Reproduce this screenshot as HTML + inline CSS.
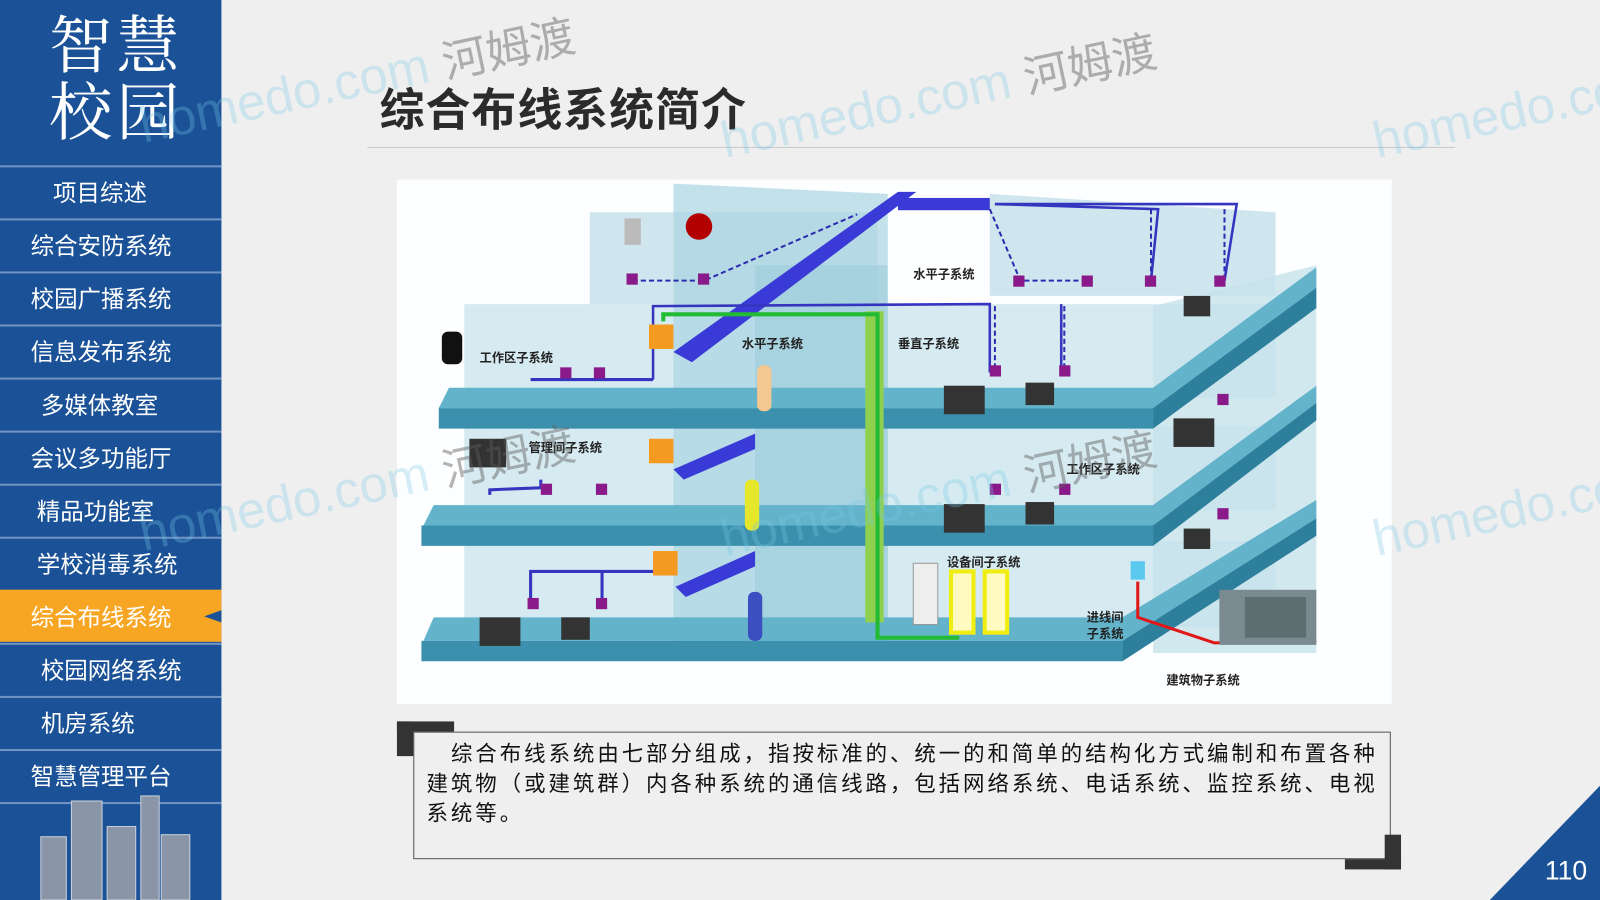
<!DOCTYPE html>
<html><head><meta charset="utf-8"><style>
html,body{margin:0;padding:0;width:1600px;height:900px;overflow:hidden;background:#eeeeee}
#w{position:absolute;left:0;top:0;width:1568px;height:882px;transform:scale(1.020408);transform-origin:0 0;font-family:"Liberation Sans","Noto Sans CJK SC",sans-serif;background:#efefef;overflow:hidden}
#side{position:absolute;left:0;top:0;width:217px;height:882px;background:#1b5297}
.ttl{position:absolute;left:48px;color:#fff;font-family:"Liberation Serif","Noto Serif CJK SC",serif;font-size:62px;line-height:64px;letter-spacing:4px}
.mi{position:absolute;left:0;width:217px;height:51px;border-top:2px solid #6f93c2;color:#fff;font-size:23px;line-height:50px;box-sizing:border-box}
.act{background:#f6a623}
.wm{position:absolute;font-size:50px;color:rgba(120,200,230,.3);white-space:nowrap;transform:rotate(-12deg);transform-origin:0 0}
.wm b{font-weight:normal;color:rgba(90,90,90,.45);font-size:44px}
</style></head><body><div id="w">
<div id="side">
<div class="ttl" style="top:14px">智慧</div>
<div class="ttl" style="top:80px">校园</div>
<div class="mi" style="top:162px;padding-left:52px">项目综述</div>
<div class="mi" style="top:214px;padding-left:30px">综合安防系统</div>
<div class="mi" style="top:266px;padding-left:30px">校园广播系统</div>
<div class="mi" style="top:318px;padding-left:30px">信息发布系统</div>
<div class="mi" style="top:370px;padding-left:40px">多媒体教室</div>
<div class="mi" style="top:422px;padding-left:30px">会议多功能厅</div>
<div class="mi" style="top:474px;padding-left:36px">精品功能室</div>
<div class="mi" style="top:526px;padding-left:36px">学校消毒系统</div>
<div class="mi act" style="top:578px;padding-left:30px;border-top-color:#f6a623">综合布线系统</div>
<div style="position:absolute;left:200px;top:598px;width:0;height:0;border-top:6px solid transparent;border-bottom:6px solid transparent;border-right:17px solid #1b5297"></div>
<div class="mi" style="top:630px;padding-left:40px">校园网络系统</div>
<div class="mi" style="top:682px;padding-left:40px">机房系统</div>
<div class="mi" style="top:734px;padding-left:30px">智慧管理平台</div>
<div class="mi" style="top:786px;height:96px"></div>
<svg style="position:absolute;left:30px;top:770px" width="170" height="112"><g fill="#8a96a8" stroke="#c9d1dc" stroke-width="1">
<rect x="10" y="50" width="25" height="62"/><rect x="40" y="15" width="30" height="97"/><rect x="75" y="40" width="28" height="72"/><rect x="108" y="10" width="18" height="102"/><rect x="128" y="48" width="28" height="64"/></g></svg>
</div>
<div style="position:absolute;left:372px;top:72px;font-size:44px;font-weight:bold;color:#2b2b2b;letter-spacing:1px">综合布线系统简介</div>
<div style="position:absolute;left:360px;top:144px;width:1066px;height:1px;background:#c9c9c9"></div>
<svg style="position:absolute;left:389px;top:176px" width="975" height="514" viewBox="389 176 975 514">
<rect x="389" y="176" width="975" height="514" fill="#fdfeff"/>
<polygon points="578,208 860,208 860,300 578,300" fill="#cfe6ee"/>
<polygon points="970,190 1250,208 1250,290 970,290" fill="#cfe6ee"/>
<polygon points="455,298 1250,298 1250,390 455,390" fill="#d6ebf1"/>
<polygon points="455,418 1250,418 1250,500 455,500" fill="#d6ebf1"/>
<polygon points="455,530 1250,530 1250,615 455,615" fill="#d6ebf1"/>
<polygon points="660,180 870,190 870,640 660,640" fill="#a9d4e2" opacity=".7"/>
<polygon points="740,260 870,260 870,640 740,640" fill="#9ccbdb" opacity=".6"/>
<polygon points="1130,300 1290,260 1290,640 1130,640" fill="#c6e2eb" opacity=".8"/>
<polygon points="440,380 1130,380 1290,262 1290,282 1130,400 430,400" fill="#63b3cb"/>
<polygon points="430,400 1130,400 1130,420 430,420" fill="#3b91ad"/>
<polygon points="1130,400 1290,282 1290,302 1130,420" fill="#2e7f9b"/>
<polygon points="425,495 1130,495 1290,378 1290,395 1130,515 415,515" fill="#63b3cb"/>
<polygon points="413,515 1130,515 1130,535 413,535" fill="#3b91ad"/>
<polygon points="1130,515 1290,395 1290,412 1130,535" fill="#2e7f9b"/>
<polygon points="425,605 1100,605 1290,490 1290,508 1100,628 415,628" fill="#63b3cb"/>
<polygon points="413,628 1100,628 1100,648 413,648" fill="#3b91ad"/>
<polygon points="1100,628 1290,508 1290,525 1100,648" fill="#2e7f9b"/>
<polygon points="660,345 880,188 898,188 678,355" fill="#3a3ad6"/>
<rect x="880" y="194" width="90" height="12" fill="#3a3ad6"/>
<polygon points="660,460 740,425 740,440 670,470" fill="#3a3ad6"/>
<polygon points="662,575 740,540 740,555 672,585" fill="#3a3ad6"/>
<rect x="848" y="305" width="18" height="305" fill="#8fd14f"/>
<path d="M650,315 L650,308 L860,308 L860,610 L860,625 L940,625" stroke="#22bb33" stroke-width="4" fill="none"/>
<path d="M640,372 L640,300 L970,298 L970,365 M1040,298 L1040,365 M975,200 L1212,200 L1200,275 M975,200 L1135,205 L1128,275" stroke="#3535c0" stroke-width="2.5" fill="none"/>
<path d="M520,372 L640,372 M480,485 L480,480 L530,478 L530,470 M520,595 L520,560 L650,560 M590,595 L590,560" stroke="#3535c0" stroke-width="3" fill="none"/>
<path d="M620,275 L690,275 L840,210 M970,205 L1000,275 L1060,275 M1128,205 L1128,275 M1200,205 L1200,275 M975,300 L975,360 M1043,300 L1043,360" stroke="#2d2db0" stroke-width="2" stroke-dasharray="5,3" fill="none"/>
<g fill="#8a1a8a"><rect x="614" y="268" width="11" height="11"/><rect x="684" y="268" width="11" height="11"/><rect x="993" y="270" width="11" height="11"/><rect x="1060" y="270" width="11" height="11"/><rect x="1122" y="270" width="11" height="11"/><rect x="1190" y="270" width="11" height="11"/><rect x="549" y="360" width="11" height="11"/><rect x="582" y="360" width="11" height="11"/><rect x="970" y="358" width="11" height="11"/><rect x="1038" y="358" width="11" height="11"/><rect x="530" y="474" width="11" height="11"/><rect x="584" y="474" width="11" height="11"/><rect x="970" y="474" width="11" height="11"/><rect x="1038" y="474" width="11" height="11"/><rect x="1193" y="386" width="11" height="11"/><rect x="1193" y="498" width="11" height="11"/><rect x="517" y="586" width="11" height="11"/><rect x="584" y="586" width="11" height="11"/></g>
<g fill="#f59a20"><rect x="636" y="318" width="24" height="24"/><rect x="636" y="430" width="24" height="24"/><rect x="640" y="540" width="24" height="24"/></g>
<g fill="#f4c890"><rect x="742" y="358" width="14" height="45" rx="6"/></g><rect x="730" y="470" width="14" height="50" rx="6" fill="#e6e62a"/><rect x="733" y="580" width="14" height="48" rx="6" fill="#3b4fc0"/>
<rect x="895" y="552" width="24" height="60" fill="#eee" stroke="#999"/><rect x="932" y="560" width="22" height="60" fill="#fffbc0" stroke="#f0ee10" stroke-width="4"/><rect x="965" y="560" width="22" height="60" fill="#fffbc0" stroke="#f0ee10" stroke-width="4"/>
<path d="M1115,570 L1115,605 L1190,630 L1290,628" stroke="#e01818" stroke-width="3" fill="none"/><rect x="1108" y="550" width="14" height="18" fill="#5bc8ee"/>
<rect x="1195" y="578" width="95" height="54" fill="#7a8a90"/><rect x="1220" y="585" width="60" height="40" fill="#5d6d70"/>
<rect x="433" y="325" width="20" height="32" rx="6" fill="#111"/><circle cx="685" cy="222" r="13" fill="#b30000"/><rect x="612" y="214" width="16" height="26" fill="#bbb"/>
<g fill="#333"><rect x="925" y="378" width="40" height="28"/><rect x="1005" y="375" width="28" height="22"/><rect x="1160" y="290" width="26" height="20"/><rect x="1150" y="410" width="40" height="28"/><rect x="925" y="494" width="40" height="28"/><rect x="1005" y="492" width="28" height="22"/><rect x="1160" y="518" width="26" height="20"/><rect x="470" y="605" width="40" height="28"/><rect x="550" y="605" width="28" height="22"/><rect x="460" y="430" width="36" height="28"/></g>
<g font-size="12" font-weight="bold" fill="#222" font-family="Liberation Sans,Noto Sans CJK SC,sans-serif">
<text x="895" y="273">水平子系统</text><text x="727" y="341">水平子系统</text><text x="880" y="341">垂直子系统</text><text x="470" y="355">工作区子系统</text><text x="518" y="443">管理间子系统</text><text x="1045" y="464">工作区子系统</text><text x="928" y="555">设备间子系统</text><text x="1065" y="609">进线间</text><text x="1065" y="625">子系统</text><text x="1143" y="671">建筑物子系统</text></g>
</svg>
<div style="position:absolute;left:405px;top:717px;width:958px;height:125px;border:1px solid #555;box-sizing:border-box"></div>
<div style="position:absolute;left:389px;top:707px;width:56px;height:10px;background:#333"></div>
<div style="position:absolute;left:389px;top:707px;width:16px;height:34px;background:#333"></div>
<div style="position:absolute;left:1318px;top:842px;width:55px;height:10px;background:#333"></div>
<div style="position:absolute;left:1357px;top:818px;width:16px;height:34px;background:#333"></div>
<div style="position:absolute;left:418px;top:725px;width:945px;font-size:21px;line-height:29px;color:#111;text-indent:24px;letter-spacing:2.9px">综合布线系统由七部分组成，指按标准的、统一的和简单的结构化方式编制和布置各种建筑物（或建筑群）内各种系统的通信线路，包括网络系统、电话系统、监控系统、电视系统等。</div>
<svg style="position:absolute;left:1460px;top:770px" width="108" height="112"><polygon points="108,0 108,112 0,112" fill="#1b5297"/><text x="54" y="92" fill="#fff" font-size="26" font-family="Liberation Sans,sans-serif">110</text></svg>
<div class="wm" style="left:130px;top:90px">homedo.com <b>河姆渡</b></div>
<div class="wm" style="left:700px;top:105px">homedo.com <b>河姆渡</b></div>
<div class="wm" style="left:1340px;top:110px">homedo.com</div>
<div class="wm" style="left:130px;top:490px">homedo.com <b>河姆渡</b></div>
<div class="wm" style="left:700px;top:495px">homedo.com <b>河姆渡</b></div>
<div class="wm" style="left:1340px;top:500px">homedo.com</div>
</div></body></html>
